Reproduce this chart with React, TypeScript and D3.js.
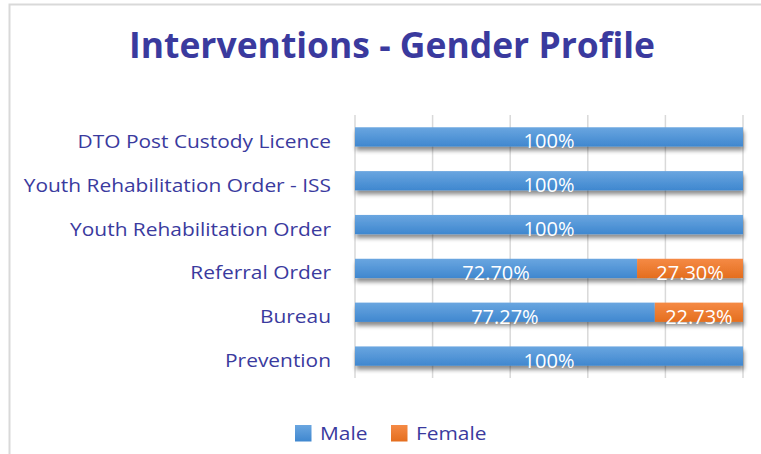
import React from "react";
import * as d3 from "d3";

const categories = [
  "DTO Post Custody Licence",
  "Youth Rehabilitation Order - ISS",
  "Youth Rehabilitation Order",
  "Referral Order",
  "Bureau",
  "Prevention",
];
const maleValues = [1, 1, 1, 0.727, 0.7727, 1];
const femaleValues = [0, 0, 0, 0.273, 0.2273, 0];
const maleLabels = ["100%", "100%", "100%", "72.70%", "77.27%", "100%"];
const femaleLabels = ["", "", "", "27.30%", "22.73%", ""];
const xTicks = [0, 0.2, 0.4, 0.6, 0.8, 1];
const seriesNames = ["Male", "Female"];

const W = 761;
const H = 454;
const FONT = "'Open Sans', sans-serif";
const TXT = "#3A3A9E";
const SX = 1.1;

export default function App() {
  const x = d3.scaleLinear().domain([0, 1]).range([355, 743]);
  const y = d3.scaleBand().domain(categories).range([115, 378]).paddingInner(0.56).paddingOuter(0.28);
  const bw = y.bandwidth();
  return (
    <svg width={W} height={H} style={{ position: "absolute", left: 0, top: 0 }}>
      <defs>
        <linearGradient id="gBlue" x1="0" y1="0" x2="0" y2="1">
          <stop offset="0" stopColor="#6AA6E0" />
          <stop offset="1" stopColor="#3F87CF" />
        </linearGradient>
        <linearGradient id="gOrange" x1="0" y1="0" x2="0" y2="1">
          <stop offset="0" stopColor="#F58A45" />
          <stop offset="1" stopColor="#E46E1E" />
        </linearGradient>
        <filter id="shadow" x="-5%" y="-50%" width="110%" height="220%">
          <feGaussianBlur in="SourceAlpha" stdDeviation="2" />
          <feOffset dx="1" dy="4" result="b" />
          <feComponentTransfer>
            <feFuncA type="linear" slope="0.45" />
          </feComponentTransfer>
          <feMerge>
            <feMergeNode />
            <feMergeNode in="SourceGraphic" />
          </feMerge>
        </filter>
      </defs>
      <rect x={0} y={0} width={W} height={H} fill="#fff" />
      <path d={`M9.5,${H} V4.5 H${W}`} fill="none" stroke="#D9D9D9" strokeWidth={2} />
      <text x={129} y={58} textLength={526} lengthAdjust="spacingAndGlyphs" fontFamily={FONT} fontWeight="bold" fontSize={36} fill={TXT}>
        Interventions - Gender Profile
      </text>
      {xTicks.map((t) => (
        <line key={t} x1={x(t)} x2={x(t)} y1={115} y2={378} stroke="#D9D9D9" strokeWidth={1.5} />
      ))}
      {categories.map((c, i) => {
        const y0 = y(c)!;
        const cy = y0 + bw / 2;
        return (
          <g key={c}>
            <text transform={`translate(331,${cy + 11}) scale(${SX},1)`} textAnchor="end" fontFamily={FONT} fontSize={19} fill={TXT}>
              {c}
            </text>
            <g filter="url(#shadow)">
              <rect x={x(0)} y={y0} width={x(maleValues[i]) - x(0)} height={bw} fill="url(#gBlue)" />
              {femaleValues[i] > 0 && (
                <rect x={x(maleValues[i])} y={y0} width={x(maleValues[i] + femaleValues[i]) - x(maleValues[i])} height={bw} fill="url(#gOrange)" />
              )}
            </g>
            <text x={(x(0) + x(maleValues[i])) / 2} y={cy + 11.5} textAnchor="middle" fontFamily={FONT} fontSize={20} fill="#fff">
              {maleLabels[i]}
            </text>
            {femaleValues[i] > 0 && (
              <text x={(x(maleValues[i]) + x(maleValues[i] + femaleValues[i])) / 2} y={cy + 11.5} textAnchor="middle" fontFamily={FONT} fontSize={20} fill="#fff">
                {femaleLabels[i]}
              </text>
            )}
          </g>
        );
      })}
      {seriesNames.map((s, i) => {
        const lx = i === 0 ? 295 : 391;
        return (
          <g key={s}>
            <rect x={lx} y={425} width={16.5} height={16.5} fill={i === 0 ? "url(#gBlue)" : "url(#gOrange)"} />
            <text transform={`translate(${lx + 25},440) scale(${SX},1)`} fontFamily={FONT} fontSize={19} fill={TXT}>
              {s}
            </text>
          </g>
        );
      })}
    </svg>
  );
}
